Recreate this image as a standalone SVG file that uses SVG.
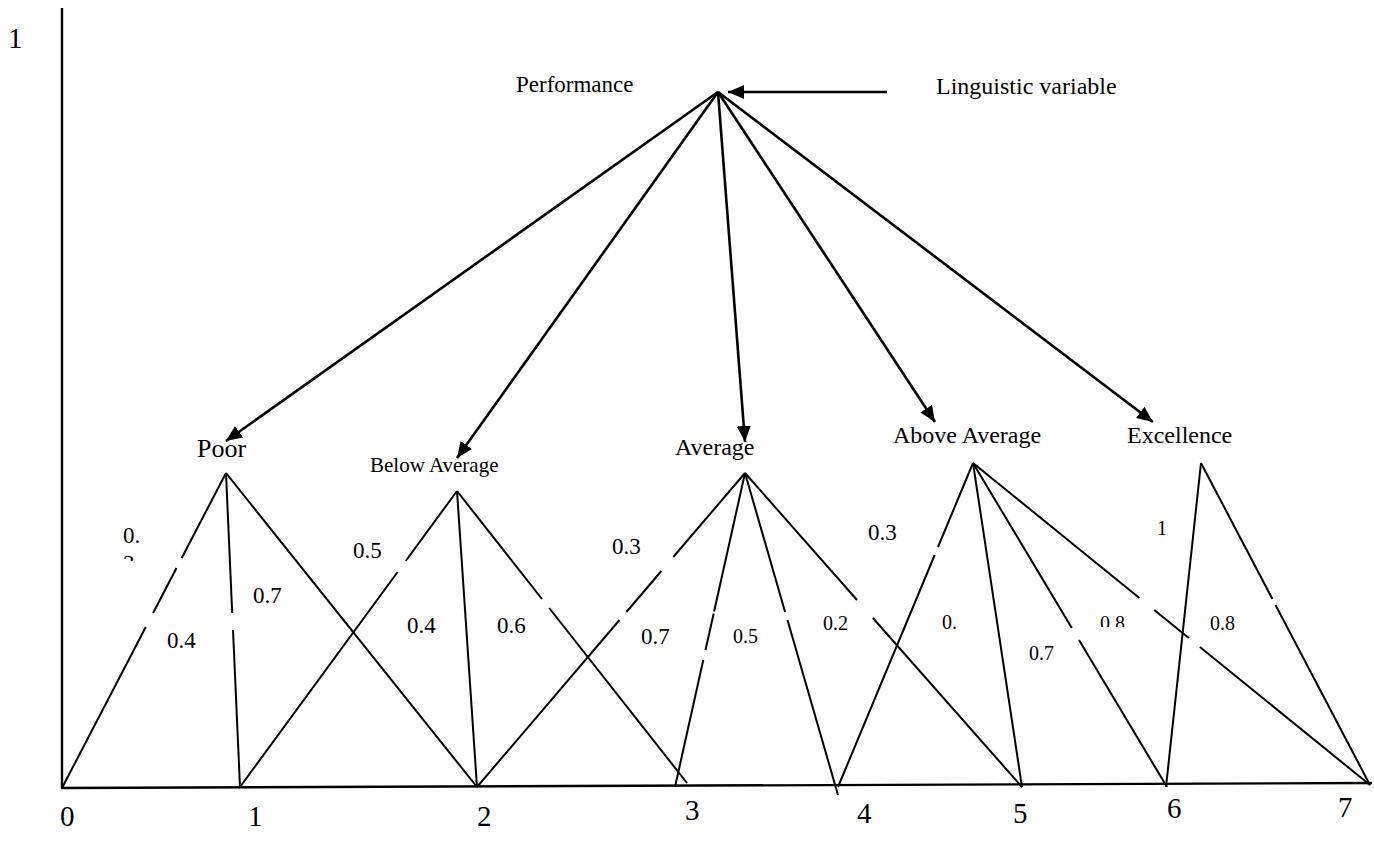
<svg xmlns="http://www.w3.org/2000/svg" width="1374" height="842" viewBox="0 0 1374 842">
<style>
text{font-family:"Liberation Serif","Times New Roman",serif;fill:#000}
.ln{stroke:#000;stroke-width:2;fill:none}
.ax{stroke:#000;stroke-width:2.4;fill:none}
.ar{stroke:#000;stroke-width:2.6;fill:none;marker-end:url(#ah)}
.lb{font-size:23px}
.ls{font-size:20px}
.tk{font-size:29px}
</style>
<defs>
<marker id="ah" markerUnits="userSpaceOnUse" markerWidth="17" markerHeight="14" refX="16" refY="7" orient="auto">
<path d="M0,0 L16,7 L0,14 z" fill="#000"/>
</marker>
<clipPath id="c3"><rect x="100" y="0" width="60" height="561"/></clipPath>
<clipPath id="c8"><rect x="1080" y="0" width="60" height="627"/></clipPath>
</defs>
<rect width="1374" height="842" fill="#fff"/>

<g id="axes">
<line class="ax" x1="62" y1="8" x2="62" y2="788"/>
<line class="ax" x1="61" y1="788" x2="1372" y2="783"/>
</g>

<g id="connectors">
<line class="ar" x1="887" y1="92" x2="728" y2="92"/>
<line class="ar" x1="718" y1="92" x2="226" y2="441"/>
<line class="ar" x1="718" y1="92" x2="457" y2="458"/>
<line class="ar" x1="718" y1="92" x2="745" y2="442"/>
<line class="ar" x1="718" y1="92" x2="935" y2="422"/>
<line class="ar" x1="718" y1="92" x2="1153" y2="422"/>
</g>

<g id="sets">
<g id="set-poor">
<polyline class="ln" points="226,473 181.7,558"/>
<polyline class="ln" points="176.5,568 153.1,613"/>
<polyline class="ln" points="145.8,627 62,788"/>
<polyline class="ln" points="226,473 232.2,613"/>
<polyline class="ln" points="233,630 240,787"/>
<polyline class="ln" points="226,473 477,787"/>
</g>
<g id="set-below-average">
<polyline class="ln" points="457,491 405.7,561"/>
<polyline class="ln" points="397.6,572 240,787"/>
<polyline class="ln" points="457,491 477,787"/>
<polyline class="ln" points="457,491 542,599"/>
<polyline class="ln" points="549.2,608 687,783"/>
</g>
<g id="set-average">
<polyline class="ln" points="745,473 673.3,557"/>
<polyline class="ln" points="661.4,571 626.4,612"/>
<polyline class="ln" points="619.5,620 477,787"/>
<polyline class="ln" points="745,473 714.1,611.5"/>
<polyline class="ln" points="713.7,613.5 705.5,650"/>
<polyline class="ln" points="703.3,660 675,787"/>
<polyline class="ln" points="745,473 785.1,612"/>
<polyline class="ln" points="787.5,620 838,795"/>
<polyline class="ln" points="745,473 857,600"/>
<polyline class="ln" points="872.9,618 1022,787"/>
</g>
<g id="set-above-average">
<polyline class="ln" points="973,463 938,547"/>
<polyline class="ln" points="934.7,555 838,787"/>
<polyline class="ln" points="973,463 1022,787"/>
<polyline class="ln" points="973,463 1071.8,628"/>
<polyline class="ln" points="1079,640 1167,787"/>
<polyline class="ln" points="973,463 1139.4,598"/>
<polyline class="ln" points="1154.2,610 1188.8,638"/>
<polyline class="ln" points="1199.9,647 1370,785"/>
</g>
<g id="set-excellence">
<polyline class="ln" points="1166,787 1201,463"/>
<polyline class="ln" points="1201,463 1272.4,599"/>
<polyline class="ln" points="1275.5,605 1370,785"/>
</g>
</g>

<g id="node-performance"><text x="516" y="92" font-size="23">Performance</text></g>
<g id="node-linguistic"><text x="936" y="94" font-size="24">Linguistic variable</text></g>
<g id="node-poor"><text x="197" y="457" font-size="26">Poor</text></g>
<g id="node-below-average"><text x="370" y="472" font-size="21">Below Average</text></g>
<g id="node-average"><text x="675" y="455" font-size="24">Average</text></g>
<g id="node-above-average"><text x="893" y="443" font-size="24">Above Average</text></g>
<g id="node-excellence"><text x="1127" y="443" font-size="24">Excellence</text></g>

<g id="values">
<text class="lb" x="123" y="543">0.</text>
<text class="lb" x="123" y="571" clip-path="url(#c3)">3</text>
<text class="lb" x="167" y="648">0.4</text>
<text class="lb" x="253" y="603">0.7</text>
<text class="lb" x="353" y="558">0.5</text>
<text class="lb" x="407" y="633">0.4</text>
<text class="lb" x="497" y="633">0.6</text>
<text class="lb" x="612" y="554">0.3</text>
<text class="lb" x="641" y="644">0.7</text>
<text class="ls" x="733" y="643">0.5</text>
<text class="ls" x="823" y="630">0.2</text>
<text class="lb" x="868" y="540">0.3</text>
<text class="ls" x="942" y="629">0.</text>
<text class="ls" x="1157" y="535" font-size="19">1</text>
<text class="ls" x="1100" y="630" clip-path="url(#c8)">0.8</text>
<text class="ls" x="1029" y="660">0.7</text>
<text class="ls" x="1210" y="630">0.8</text>
</g>

<g id="ticks">
<text class="tk" x="8" y="48" font-size="28">1</text>
<text class="tk" x="60" y="826">0</text>
<text class="tk" x="248" y="826">1</text>
<text class="tk" x="477" y="826">2</text>
<text class="tk" x="685" y="820">3</text>
<text class="tk" x="857" y="823">4</text>
<text class="tk" x="1013" y="823">5</text>
<text class="tk" x="1167" y="818">6</text>
<text class="tk" x="1338" y="817">7</text>
</g>
</svg>
